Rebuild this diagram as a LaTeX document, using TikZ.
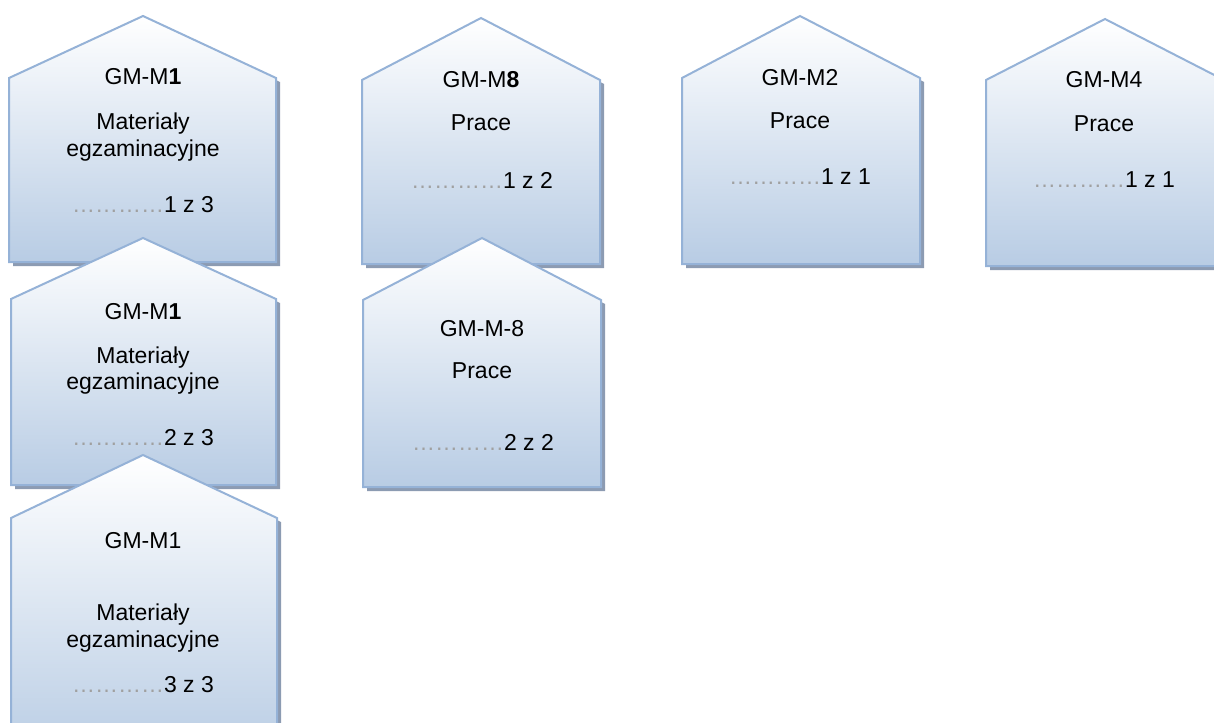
\documentclass[tikz,border=0pt]{standalone}
\usepackage{fontspec}
\setmainfont{Liberation Sans}
\definecolor{edgec}{RGB}{149,178,215}
\definecolor{fillb}{RGB}{184,204,228}
\definecolor{shadowc}{RGB}{140,155,178}
\definecolor{dotc}{RGB}{160,160,160}
\newcommand\drawhouse[6]{%
  \begin{scope}[shift={(4,4)}]
    \fill[shadowc] (#1,#6) -- (#1,#5) -- (#2,#4) -- (#3,#5) -- (#3,#6) -- cycle;
  \end{scope}
  \shade[housestyle] (#1,#6) -- (#1,#5) -- (#2,#4) -- (#3,#5) -- (#3,#6) -- cycle;
}
\newcommand\dotlead{\textcolor{dotc}{…………}}
\begin{document}
\begin{tikzpicture}[x=1pt,y=-1pt,
  housestyle/.style={top color=white, bottom color=fillb, draw=edgec, line width=2pt, line join=miter},
  lbl/.style={anchor=base, inner sep=0pt, font=\fontsize{23}{26.5}\selectfont, align=center}]
\useasboundingbox (0,0) rectangle (1214,722);
\clip (0,0) rectangle (1214,722);
% column 1
\drawhouse{9}{143}{276}{16}{78}{262}
\node[lbl] (a1) at (143,85) {GM-M\textbf{1}};
\node[lbl] (a2) at (143,130) {Materiały};
\node[lbl] (a3) at (143,157) {egzaminacyjne};
\node[lbl] (a4) at (143,212) {\dotlead 1 z 3};
\drawhouse{11}{143}{276}{238}{299}{485}
\node[lbl] (b1) at (143,319) {GM-M\textbf{1}};
\node[lbl] (b2) at (143,363) {Materiały};
\node[lbl] (b3) at (143,389) {egzaminacyjne};
\node[lbl] (b4) at (143,445) {\dotlead 2 z 3};
\drawhouse{11}{143}{277}{455}{518}{760}
\node[lbl] (c1) at (143,548) {GM-M1};
\node[lbl] (c2) at (143,620) {Materiały};
\node[lbl] (c3) at (143,647) {egzaminacyjne};
\node[lbl] (c4) at (143,692) {\dotlead 3 z 3};
% column 2
\drawhouse{362}{481}{600}{18}{80}{264}
\node[lbl] (d1) at (481,88) {GM-M\textbf{8}};
\node[lbl] (d2) at (481,131) {Prace};
\node[lbl] (d3) at (482,188) {\dotlead 1 z 2};
\drawhouse{363}{482}{601}{238}{300}{487}
\node[lbl] (e1) at (482,336) {GM-M-8};
\node[lbl] (e2) at (482,378) {Prace};
\node[lbl] (e3) at (483,450) {\dotlead 2 z 2};
% column 3
\drawhouse{682}{800}{920}{16}{78}{264}
\node[lbl] (f1) at (800,86) {GM-M2};
\node[lbl] (f2) at (800,129) {Prace};
\node[lbl] (f3) at (800,184) {\dotlead 1 z 1};
% column 4
\drawhouse{986}{1105}{1224}{19}{80}{266}
\node[lbl] (g1) at (1104,88) {GM-M4};
\node[lbl] (g2) at (1104,132) {Prace};
\node[lbl] (g3) at (1104,187) {\dotlead 1 z 1};
\end{tikzpicture}
\end{document}
